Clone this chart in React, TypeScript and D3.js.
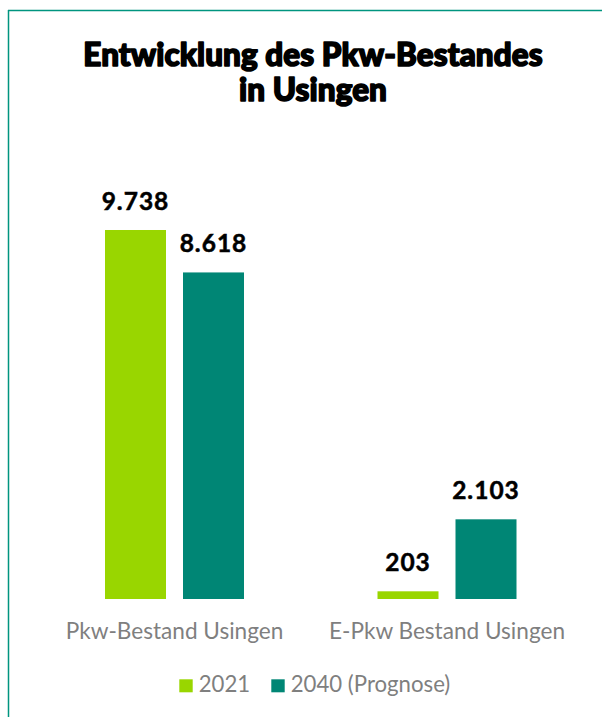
import React from "react";
import * as d3 from "d3";

const categories = ["Pkw-Bestand Usingen", "E-Pkw Bestand Usingen"];
const seriesNames = ["2021", "2040 (Prognose)"];
const values2021 = [9738, 203];
const values2040 = [8618, 2103];
const titleLines = ["Entwicklung des Pkw-Bestandes", "in Usingen"];

const COLORS = ["#99d600", "#008675"];
const W = 602;
const H = 717;

const de = d3.formatLocale({ decimal: ",", thousands: ".", grouping: [3], currency: ["", " €"] });
const fmt = de.format(",d");

export default function App() {
  const series = [values2021, values2040];
  const x0 = d3.scaleBand<string>().domain(categories).range([38.25, 583.25]).padding(0);
  const x1 = d3.scaleBand<string>().domain(seriesNames).range([0, 139]).paddingInner(17 / 78).paddingOuter(0);
  const y = d3.scaleLinear().domain([0, 10000]).range([599, 220.07]);

  const bars: any[] = [];
  categories.forEach((c, ci) => {
    const gx = (x0(c) ?? 0) + x0.bandwidth() / 2 - 69.5;
    seriesNames.forEach((s, si) => {
      const v = series[si][ci];
      bars.push({ key: c + s, x: gx + (x1(s) ?? 0), w: x1.bandwidth(), y: y(v), h: y(0) - y(v), color: COLORS[si], v });
    });
  });

  return (
    <svg width={W} height={H} style={{ position: "absolute", left: 0, top: 0, background: "#fff" }}>
      <rect x={0} y={0} width={W} height={H} fill="#fff" />
      <line x1={8.5} y1={10} x2={8.5} y2={H} stroke="#00957f" strokeWidth={1.5} />
      <line x1={8} y1={10.5} x2={W} y2={10.5} stroke="#00957f" strokeWidth={1.5} />
      {titleLines.map((t, i) => (
        <text key={t} x={313} y={66 + i * 35} textAnchor="middle" fontFamily="Lato" fontWeight={900} fontSize={31.4} letterSpacing={0.1} fill="#000" stroke="#000" strokeWidth={1.6} strokeLinejoin="round">
          {t}
        </text>
      ))}
      {bars.map((b) => (
        <g key={b.key}>
          <rect x={b.x} y={b.y} width={b.w} height={b.h} fill={b.color} />
          <text x={b.x + b.w / 2} y={b.y - 20} textAnchor="middle" fontFamily="Lato" fontWeight={700} fontSize={24.5} letterSpacing={1} fill="#000" stroke="#000" strokeWidth={0.5}>
            {fmt(b.v)}
          </text>
        </g>
      ))}
      {categories.map((c) => (
        <text key={c} x={(x0(c) ?? 0) + x0.bandwidth() / 2} y={639.3} textAnchor="middle" fontFamily="Lato" fontSize={22.6} fill="#7f7f7f">
          {c}
        </text>
      ))}
      {seriesNames.map((s, i) => {
        const lx = [179.3, 271.3][i];
        return (
          <g key={s}>
            <rect x={lx} y={679.3} width={13.4} height={13} fill={COLORS[i]} />
            <text x={lx + 19.4} y={692.3} fontFamily="Lato" fontSize={22.2} fill="#7f7f7f">
              {s}
            </text>
          </g>
        );
      })}
    </svg>
  );
}
